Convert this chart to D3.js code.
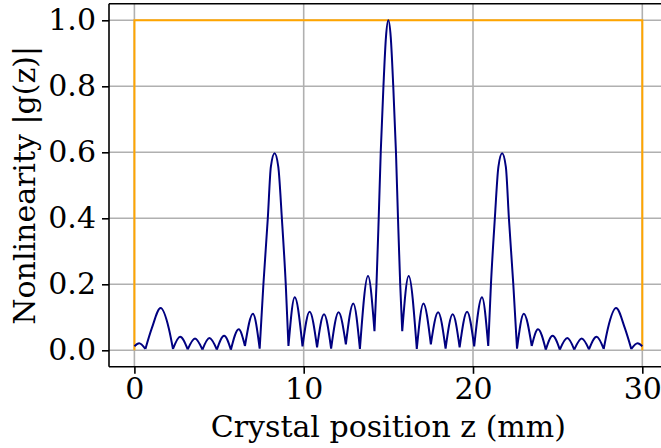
<!DOCTYPE html>
<html>
<head>
<meta charset="utf-8">
<script src="https://cdn.jsdelivr.net/npm/d3@7"></script>
<style>
  body { margin: 0; background: #fff; }
  svg { display: block; }
  .axis text { font-family: "DejaVu Serif", serif; font-size: 30px; fill: #000; }
  .axis-title { font-family: "DejaVu Serif", serif; font-size: 30px; fill: #000; }
</style>
</head>
<body>
<div id="chart"></div>
<script>
// crystal position (mm) and |g(z)|
const posZ = [
  0.00, 0.28, 0.65, 1.03, 1.55, 2.03, 2.28, 2.70, 3.15, 3.58, 4.02, 4.43, 4.87,
  5.30, 5.70, 6.16, 6.53, 7.00, 7.40, 7.62, 7.88, 8.06, 8.28, 8.50, 8.71, 8.94,
  9.10, 9.47, 9.93, 10.35, 10.79, 11.20, 11.62, 12.06, 12.49, 12.93, 13.32,
  13.80, 14.18, 14.30, 14.43, 14.55, 14.71, 14.86, 15.00,
  15.14, 15.29, 15.45, 15.57, 15.70, 15.82, 16.20, 16.68, 17.07, 17.51, 17.94,
  18.38, 18.80, 19.21, 19.65, 20.07, 20.53, 20.90, 21.06, 21.29, 21.50, 21.72,
  21.94, 22.12, 22.38, 22.60, 23.00, 23.47, 23.84, 24.30, 24.70, 25.13, 25.57,
  25.98, 26.42, 26.85, 27.30, 27.72, 27.97, 28.45, 28.97, 29.35, 29.72, 30.00
]
const gVal = [
  0.012, 0.021, 0.004, 0.067, 0.128, 0.067, 0.004, 0.041, 0.003, 0.036, 0.002, 0.037, 0.002,
  0.044, 0.002, 0.064, 0.013, 0.111, 0.005, 0.20, 0.40, 0.556, 0.597, 0.556, 0.40, 0.20,
  0.013, 0.161, 0.012, 0.117, 0.009, 0.109, 0.005, 0.115, 0.018, 0.142, 0.004,
  0.225, 0.058, 0.20, 0.40, 0.60, 0.80, 0.95, 1.00,
  0.95, 0.80, 0.60, 0.40, 0.20, 0.058, 0.225, 0.004, 0.142, 0.018, 0.115,
  0.005, 0.109, 0.009, 0.117, 0.012, 0.161, 0.013, 0.20, 0.40, 0.556, 0.597,
  0.556, 0.40, 0.20, 0.005, 0.111, 0.013, 0.064, 0.002, 0.044, 0.002, 0.037,
  0.002, 0.036, 0.003, 0.041, 0.004, 0.067, 0.128, 0.067, 0.004, 0.021, 0.012
]

// target top-hat profile
const targetZ = [0, 0, 30, 30]
const targetG = [0, 1, 1, 0]

const xTicks = [0, 10, 20, 30]
const yTicks = [0, 0.2, 0.4, 0.6, 0.8, 1.0]

const xLabel = "Crystal position z (mm)"
const yLabel = "Nonlinearity |g(z)|"

const width = 661
const height = 448
const margin = { top: 3.8, left: 109, right: 667.7, bottom: 366.8 }

const svg = d3.select("#chart").append("svg")
  .attr("width", width)
  .attr("height", height)

const x = d3.scaleLinear().domain([-1.5, 31.5]).range([margin.left, margin.right])
const y = d3.scaleLinear().domain([-0.05, 1.05]).range([margin.bottom, margin.top])

// grid
const grid = svg.append("g")
  .attr("stroke", "#b0b0b0")
  .attr("stroke-width", 1.6)
grid.selectAll(".gx").data(xTicks).join("line")
  .attr("x1", d => x(d)).attr("x2", d => x(d))
  .attr("y1", margin.top).attr("y2", margin.bottom)
grid.selectAll(".gy").data(yTicks).join("line")
  .attr("y1", d => y(d)).attr("y2", d => y(d))
  .attr("x1", margin.left).attr("x2", width)

// target
const target = targetZ.map((z, i) => [z, targetG[i]])
svg.append("path")
  .datum(target)
  .attr("d", d3.line().x(d => x(d[0])).y(d => y(d[1])))
  .attr("fill", "none")
  .attr("stroke", "orange")
  .attr("stroke-width", 2)

// |g(z)| drawn lobe by lobe so the minima keep their sharp corners
const pts = posZ.map((z, i) => [z, gVal[i]])
let cuts = [0]
for (let i = 1; i < pts.length - 1; i++) {
  if (pts[i][1] < pts[i - 1][1] && pts[i][1] < pts[i + 1][1]) cuts.push(i)
}
cuts.push(pts.length - 1)

const lobe = d3.line()
  .curve(d3.curveMonotoneX)
  .x(d => x(d[0]))
  .y(d => y(d[1]))

let pathD = ""
for (let k = 0; k < cuts.length - 1; k++) {
  pathD += lobe(pts.slice(cuts[k], cuts[k + 1] + 1))
}
svg.append("path")
  .attr("d", pathD)
  .attr("fill", "none")
  .attr("stroke", "navy")
  .attr("stroke-width", 2)
  .attr("stroke-linejoin", "round")

// axes
svg.append("g")
  .attr("class", "axis")
  .attr("transform", `translate(${margin.left},0)`)
  .call(d3.axisLeft(y).tickValues(yTicks).tickFormat(d3.format(".1f")).tickSize(7).tickPadding(6))
  .call(g => g.select(".domain").remove())
  .call(g => g.selectAll(".tick line").attr("stroke", "#000").attr("stroke-width", 1.6))

svg.append("g")
  .attr("class", "axis")
  .attr("transform", `translate(0,${margin.bottom})`)
  .call(d3.axisBottom(x).tickValues(xTicks).tickFormat(d3.format("d")).tickSize(7).tickPadding(4))
  .call(g => g.select(".domain").remove())
  .call(g => g.selectAll(".tick line").attr("stroke", "#000").attr("stroke-width", 1.6))

// spines
const spines = svg.append("g").attr("stroke", "#000").attr("stroke-width", 1.6)
spines.append("line").attr("x1", margin.left).attr("x2", margin.left)
  .attr("y1", margin.top).attr("y2", margin.bottom)
spines.append("line").attr("x1", margin.left).attr("x2", width)
  .attr("y1", margin.bottom).attr("y2", margin.bottom)
spines.append("line").attr("x1", margin.left).attr("x2", width)
  .attr("y1", margin.top).attr("y2", margin.top)

// axis titles
svg.append("text")
  .attr("class", "axis-title")
  .attr("text-anchor", "middle")
  .attr("x", (margin.left + margin.right) / 2)
  .attr("y", 437)
  .text(xLabel)

svg.append("text")
  .attr("class", "axis-title")
  .attr("text-anchor", "middle")
  .attr("transform", `translate(35,${(margin.top + margin.bottom) / 2}) rotate(-90)`)
  .text(yLabel)
</script>
</body>
</html>
